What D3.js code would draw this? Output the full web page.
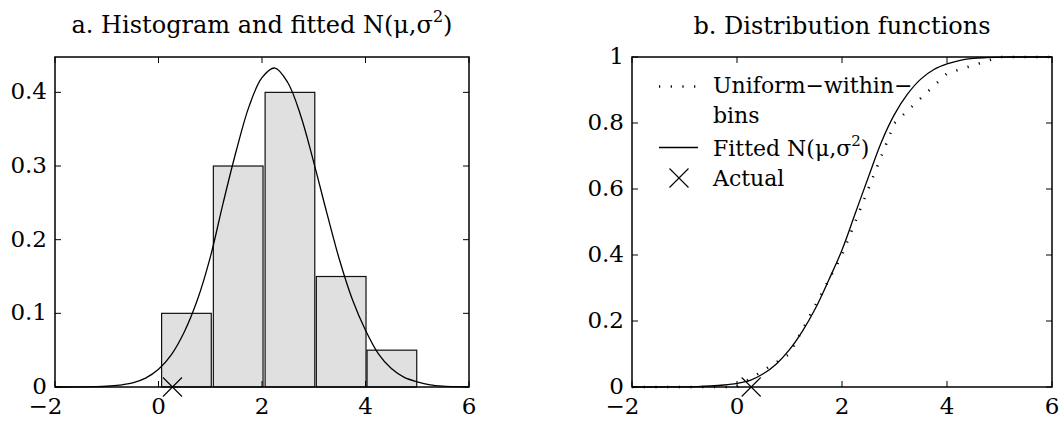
<!DOCTYPE html>
<html>
<head>
<meta charset="utf-8">
<script src="https://cdn.jsdelivr.net/npm/d3@7"></script>
<style>
	body{margin:0;background:#fff;}
	svg text{font-family:"DejaVu Serif", serif; fill:#000;}
</style>
</head>
<body>
<svg id="chart" width="1063" height="425"></svg>
<script>
// histogram: bar edges as drawn and proportions
let barLeft = [0.06, 1.06, 2.06, 3.05, 4.03];
let barRight = [1.02, 2.02, 3.02, 4.01, 4.99];
let barHeight = [0.10, 0.30, 0.40, 0.15, 0.05];

// fitted normal density
let pdfX = [-2, -1.75, -1.5, -1.25, -1, -0.75, -0.5, -0.25, 0, 0.25, 0.5, 0.75, 1, 1.25, 1.5, 1.75, 2,
	2.25, 2.5, 2.75, 3, 3.25, 3.5, 3.75, 4, 4.25, 4.5, 4.75, 5, 5.25, 5.5, 5.75, 6];
let pdfY = [0, 0, 0.0001, 0.0004, 0.001, 0.0025, 0.0055, 0.012, 0.024, 0.044, 0.075, 0.118, 0.176, 0.25, 0.32, 0.381, 0.42,
	0.433, 0.413, 0.368, 0.305, 0.237, 0.172, 0.118, 0.077, 0.045, 0.025, 0.013, 0.007, 0.003, 0.0012, 0.0004, 0.0001];

// fitted normal distribution function
let cdfX = pdfX;
let cdfY = [0, 0, 0, 0.0002, 0.0005, 0.0012, 0.003, 0.006, 0.011, 0.02, 0.04, 0.07, 0.113, 0.17, 0.24, 0.325, 0.415,
	0.525, 0.635, 0.742, 0.826, 0.888, 0.933, 0.962, 0.979, 0.99, 0.996, 0.998, 0.999, 1, 1, 1, 1];

// uniform-within-bins distribution function
let uniX = [-2, 0, 1, 2, 3, 4, 5, 6];
let uniY = [0, 0, 0.1, 0.4, 0.8, 0.95, 1, 1];

let actualX = 0.27;

let xTicks = [-2, 0, 2, 4, 6];
let yTicksA = [0, 0.1, 0.2, 0.3, 0.4];
let yTicksB = [0, 0.2, 0.4, 0.6, 0.8, 1];

let svg = d3.select("#chart");
let tickSize = 23, titleSize = 24, legendSize = 22;
let crossPath = "M-9.5,-9.5L9.5,9.5M-9.5,9.5L9.5,-9.5";

function drawFrame(g, x, y, yTicks, fmt){
	let [x0, x1] = x.range();
	let [y1, y0] = y.range();
	let tl = 6;
	// ticks inward on all four sides
	g.append("g").selectAll("line").data(xTicks).enter().append("line")
		.attr("x1", d => x(d)).attr("x2", d => x(d))
		.attr("y1", y1).attr("y2", y1 - tl)
		.attr("stroke", "#000");
	g.append("g").selectAll("line").data(xTicks).enter().append("line")
		.attr("x1", d => x(d)).attr("x2", d => x(d))
		.attr("y1", y0).attr("y2", y0 + tl)
		.attr("stroke", "#000");
	g.append("g").selectAll("line").data(yTicks).enter().append("line")
		.attr("x1", x0).attr("x2", x0 + tl)
		.attr("y1", d => y(d)).attr("y2", d => y(d))
		.attr("stroke", "#000");
	g.append("g").selectAll("line").data(yTicks).enter().append("line")
		.attr("x1", x1).attr("x2", x1 - tl)
		.attr("y1", d => y(d)).attr("y2", d => y(d))
		.attr("stroke", "#000");
	g.append("rect")
		.attr("x", x0).attr("y", y0)
		.attr("width", x1 - x0).attr("height", y1 - y0)
		.attr("fill", "none")
		.attr("stroke", "#000")
		.attr("stroke-width", 1.5);
	// digits centred on the tick, a minus sign hangs to the left
	let half = 0.318 * tickSize;
	g.append("g").selectAll("text").data(xTicks).enter().append("text")
		.attr("x", d => d < 0 ? x(d) + half : x(d)).attr("y", y1 + 27)
		.attr("text-anchor", d => d < 0 ? "end" : "middle")
		.attr("font-size", tickSize)
		.text(d => d < 0 ? "\u2212" + Math.abs(d) : d);
	g.append("g").selectAll("text").data(yTicks).enter().append("text")
		.attr("x", x0 - 8).attr("y", d => y(d) + 7)
		.attr("text-anchor", "end")
		.attr("font-size", tickSize)
		.text(fmt);
}

function addTitle(g, cx, ty, main, withN){
	let t = g.append("text")
		.attr("x", cx).attr("y", ty)
		.attr("text-anchor", "middle")
		.attr("font-size", titleSize);
	t.append("tspan").text(main);
	if (withN){
		t.append("tspan").attr("font-size", 16).attr("dy", -11).text("2");
		t.append("tspan").attr("dy", 11).text(")");
	}
	return t;
}

// panel a: histogram and fitted normal
let xA = d3.scaleLinear().domain([-2, 6]).range([55, 469]);
let yA = d3.scaleLinear().domain([0, 0.448]).range([387, 57]);
let gA = svg.append("g");

gA.selectAll("rect.bar")
	.data(barHeight)
	.enter().append("rect")
	.attr("class", "bar")
	.attr("x", (d, i) => xA(barLeft[i]))
	.attr("width", (d, i) => xA(barRight[i]) - xA(barLeft[i]))
	.attr("y", d => yA(d))
	.attr("height", d => yA(0) - yA(d))
	.attr("fill", "#e0e0e0")
	.attr("stroke", "#111")
	.attr("stroke-width", 1.2);

let pdfLine = d3.line()
	.x((d, i) => xA(pdfX[i]))
	.y(d => yA(d))
	.curve(d3.curveCatmullRom);
gA.append("path")
	.attr("d", pdfLine(pdfY))
	.attr("fill", "none")
	.attr("stroke", "#000")
	.attr("stroke-width", 1.3);

gA.append("path")
	.attr("d", crossPath)
	.attr("transform", `translate(${xA(actualX)},${yA(0)})`)
	.attr("stroke", "#000")
	.attr("stroke-width", 1.1);

drawFrame(gA, xA, yA, yTicksA, d => d === 0 ? "0" : d3.format(".1f")(d));
addTitle(gA, 262, 33, "a. Histogram and fitted N(\u03bc,\u03c3", true);

// panel b: distribution functions
let xB = d3.scaleLinear().domain([-2, 6]).range([632, 1052]);
let yB = d3.scaleLinear().domain([0, 1]).range([387, 57]);
let gB = svg.append("g");

let uniLine = d3.line()
	.x((d, i) => xB(uniX[i]))
	.y(d => yB(d));
gB.append("path")
	.attr("d", uniLine(uniY))
	.attr("fill", "none")
	.attr("stroke", "#000")
	.attr("stroke-width", 2.6)
	.attr("stroke-dasharray", "1.2,10.5");

let cdfLine = d3.line()
	.x((d, i) => xB(cdfX[i]))
	.y(d => yB(d))
	.curve(d3.curveCatmullRom);
gB.append("path")
	.attr("d", cdfLine(cdfY))
	.attr("fill", "none")
	.attr("stroke", "#000")
	.attr("stroke-width", 1.3);

gB.append("path")
	.attr("d", crossPath)
	.attr("transform", `translate(${xB(actualX)},${yB(0)})`)
	.attr("stroke", "#000")
	.attr("stroke-width", 1.1);

drawFrame(gB, xB, yB, yTicksB, d => d === 0 || d === 1 ? String(d) : d3.format(".1f")(d));
addTitle(gB, 842, 34, "b. Distribution functions", false);

// legend
let leg = gB.append("g");
leg.append("line")
	.attr("x1", 659).attr("x2", 698)
	.attr("y1", 86.5).attr("y2", 86.5)
	.attr("stroke", "#000")
	.attr("stroke-width", 2.6)
	.attr("stroke-dasharray", "1.2,10.5");
let legText = leg.append("text").attr("font-size", legendSize);
legText.append("tspan").attr("x", 713).attr("y", 93).text("Uniform\u2212within\u2212");
legText.append("tspan").attr("x", 713).attr("y", 123).text("bins");

leg.append("line")
	.attr("x1", 659).attr("x2", 698)
	.attr("y1", 147.5).attr("y2", 147.5)
	.attr("stroke", "#000")
	.attr("stroke-width", 1.3);
let fitText = leg.append("text").attr("x", 713).attr("y", 156).attr("font-size", legendSize);
fitText.append("tspan").text("Fitted N(\u03bc,\u03c3");
fitText.append("tspan").attr("font-size", 15).attr("dy", -10).text("2");
fitText.append("tspan").attr("dy", 10).text(")");

leg.append("path")
	.attr("d", crossPath)
	.attr("transform", "translate(679,178)")
	.attr("stroke", "#000")
	.attr("stroke-width", 1.1);
leg.append("text")
	.attr("x", 713).attr("y", 186)
	.attr("font-size", legendSize)
	.text("Actual");
</script>
</body>
</html>
